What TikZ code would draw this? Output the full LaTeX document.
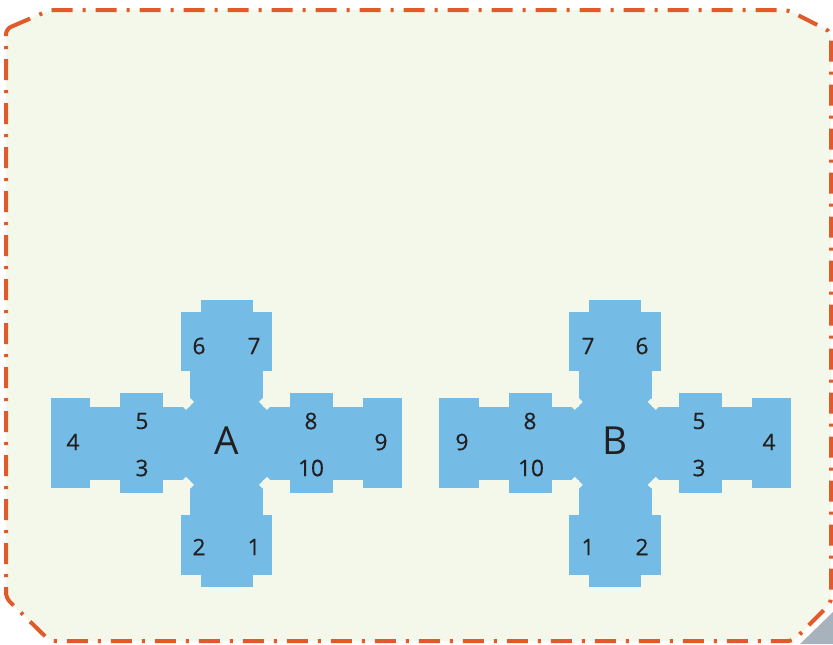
\documentclass[tikz,border=0pt]{standalone}
\usepackage{fontspec}
\setmainfont{Open Sans}
\newfontfamily\numfont{Open Sans}[FakeBold=0.4]
\usepackage{tikz}
\usetikzlibrary{calc,positioning}
\usepackage{xcolor}
\definecolor{myblue}{RGB}{116,188,230}
\definecolor{mycream}{RGB}{244,248,235}
\definecolor{myorange}{RGB}{224,90,42}
\definecolor{myink}{RGB}{35,31,32}
\definecolor{mycurl}{RGB}{168,178,188}

\begin{document}
\begin{tikzpicture}[x=0.75pt, y=-0.75pt,
  frame/.style={draw=myorange, line width=3pt, fill=mycream, rounded corners=4pt,
    dash pattern=on 15.75pt off 7.5pt on 2.25pt off 7.5pt},
  piece/.style={fill=myblue},
  notch/.style={fill=mycream},
  num/.style={text=myink, font=\numfont\fontsize{17}{20}\selectfont, inner sep=0pt},
  letter/.style={text=myink, font=\fontsize{29}{32}\selectfont, inner sep=0pt}]
  \useasboundingbox (0,0) rectangle (833,644);

  % page corner
  \fill[mycurl] (800,644) -- (833,612) -- (833,644) -- cycle;

  % frame
  \path[frame] (6,29) -- (50,10) -- (788,10) -- (831,32) -- (831,603)
    -- (793,641) -- (50,641) -- (6,598) -- cycle;

  % crosses
  \foreach \cx in {226.5,615.2} {
    \begin{scope}[shift={(\cx,443.3)}]
      \fill[piece] (-36.5,-72) rectangle (36.5,72);
      \fill[piece] (-175.8,-36.5) rectangle (175.8,36.5);
      \fill[piece] (-45.8,-131.6) rectangle (45.8,-72);
      \fill[piece] (-45.8,72) rectangle (45.8,131.6);
      \fill[piece] (-26,-143.3) rectangle (26,-131.6);
      \fill[piece] (-26,131.6) rectangle (26,143.3);
      \fill[piece] (-106.3,-50) rectangle (-63.5,50);
      \fill[piece] (63.5,-50) rectangle (106.3,50);
      \fill[piece] (-175.8,-45) rectangle (-136.3,45);
      \fill[piece] (136.3,-45) rectangle (175.8,45);
      \foreach \sx/\sy in {1/1,1/-1,-1/1,-1/-1}
        \fill[notch] (\sx*36,\sy*45) -- (\sx*32.5,\sy*41.5)
          -- (\sx*40.5,\sy*33.5) -- (\sx*44,\sy*37) -- cycle;
    \end{scope}
  }

  % cross A
  \node[letter] (lA) at (227,441) {A};
  \node[num] (a6) at (199,346) {6};
  \node[num] (a7) at (254,346) {7};
  \node[num] (a4) at (73,442) {4};
  \node[num] (a5) at (142,421) {5};
  \node[num] (a3) at (142,468) {3};
  \node[num] (a8) at (311,421) {8};
  \node[num] (a10) at (311,468) {10};
  \node[num] (a9) at (381,442) {9};
  \node[num] (a2) at (199,547) {2};
  \node[num] (a1) at (254,547) {1};

  % cross B
  \node[letter] (lB) at (615,441) {B};
  \node[num] (b7) at (588,346) {7};
  \node[num] (b6) at (642,346) {6};
  \node[num] (b9) at (462,442) {9};
  \node[num] (b8) at (530,421) {8};
  \node[num] (b10) at (531,468) {10};
  \node[num] (b5) at (699,421) {5};
  \node[num] (b3) at (699,468) {3};
  \node[num] (b4) at (769,442) {4};
  \node[num] (b1) at (588,547) {1};
  \node[num] (b2) at (642,547) {2};
\end{tikzpicture}
\end{document}
